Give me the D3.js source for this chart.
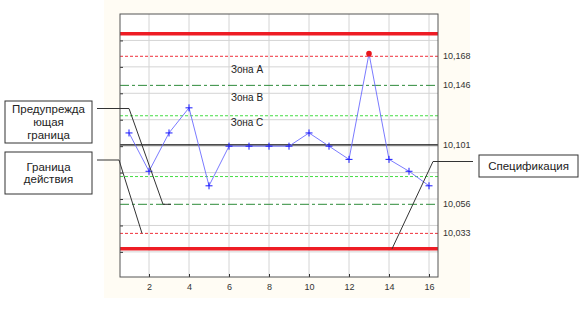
<!DOCTYPE html>
<html>
<head>
<meta charset="utf-8">
<script src="https://cdn.jsdelivr.net/npm/d3@7"></script>
<style>
  body { margin: 0; background: #fff; }
  svg { display: block; font-family: "Liberation Sans", Arial, sans-serif; }
</style>
</head>
<body>
<svg id="chart"></svg>
<script>
const width = 582;
const height = 309;

// samples 1..16
const samples = d3.range(1, 17);
const values = [10.110, 10.081, 10.110, 10.129, 10.070, 10.100, 10.100, 10.100,
                10.100, 10.110, 10.100, 10.090, 10.170, 10.090, 10.081, 10.070];
const outOfControl = [13];

const xTicks = [2, 4, 6, 8, 10, 12, 14, 16];
const gridValues = [10.02, 10.04, 10.06, 10.08, 10.10, 10.12, 10.14, 10.16, 10.18];

// control / spec limit lines
const specLimits = [10.185, 10.0223];
const actionLimits = [10.168, 10.034];
const warningLimits = [10.146, 10.056];
const zoneCLimits = [10.123, 10.077];
const centerLine = 10.101;

const rightLabels = [
  { v: 10.168, t: '10,168' },
  { v: 10.146, t: '10,146' },
  { v: 10.101, t: '10,101' },
  { v: 10.056, t: '10,056' },
  { v: 10.034, t: '10,033' }
];
const zoneLabels = [
  { v: 10.158, t: 'Зона А' },
  { v: 10.137, t: 'Зона В' },
  { v: 10.118, t: 'Зона С' }
];

const plot = { left: 120, right: 438, top: 14, bottom: 277 };

const svg = d3.select('#chart')
    .attr('width', width)
    .attr('height', height);

const x = d3.scaleLinear().domain([0.55, 16.45]).range([plot.left, plot.right]);
const y = d3.scaleLinear().domain([10.001, 10.2]).range([plot.bottom, plot.top]);

// faint panel background
svg.append('rect')
    .attr('x', 104).attr('y', 0)
    .attr('width', 366).attr('height', 298)
    .attr('fill', '#fffcf4');

svg.append('rect')
    .attr('x', plot.left).attr('y', plot.top)
    .attr('width', plot.right - plot.left).attr('height', plot.bottom - plot.top)
    .attr('fill', '#fff');

// grid
svg.append('g')
  .selectAll('line')
  .data(xTicks)
  .join('line')
    .attr('x1', d => x(d)).attr('x2', d => x(d))
    .attr('y1', plot.top).attr('y2', plot.bottom)
    .attr('stroke', '#d4d4d4');

svg.append('g')
  .selectAll('line')
  .data(gridValues)
  .join('line')
    .attr('x1', plot.left).attr('x2', plot.right)
    .attr('y1', d => y(d)).attr('y2', d => y(d))
    .attr('stroke', '#d4d4d4');

// axes (inner ticks)
const xAxis = d3.axisBottom(x).tickValues(xTicks).tickSize(-3).tickPadding(7).tickFormat(d3.format('d'));
svg.append('g')
    .attr('transform', `translate(0,${plot.bottom})`)
    .call(xAxis)
    .call(g => g.select('.domain').remove())
    .call(g => g.selectAll('line').attr('stroke', '#333'))
    .call(g => g.selectAll('text').attr('font-size', 9).attr('fill', '#333'));

const yAxis = d3.axisLeft(y).tickValues(gridValues).tickSize(-3).tickFormat('');
svg.append('g')
    .attr('transform', `translate(${plot.left},0)`)
    .call(yAxis)
    .call(g => g.select('.domain').remove())
    .call(g => g.selectAll('line').attr('stroke', '#333'));

function hline(vals, color, w, dash) {
  svg.append('g')
    .selectAll('line')
    .data(vals)
    .join('line')
      .attr('x1', plot.left).attr('x2', plot.right)
      .attr('y1', d => y(d)).attr('y2', d => y(d))
      .attr('stroke', color)
      .attr('stroke-width', w)
      .attr('stroke-dasharray', dash);
}

hline(zoneCLimits, '#44dd44', 1, '3,2');
hline(warningLimits, '#2e8b3a', 1, '9,3,3,3');
hline(actionLimits, '#f0303a', 1, '3,2');
hline([centerLine], '#111', 1.3, null);
hline(specLimits, '#ee1c24', 3.5, null);

// frame
svg.append('rect')
    .attr('x', plot.left).attr('y', plot.top)
    .attr('width', plot.right - plot.left).attr('height', plot.bottom - plot.top)
    .attr('fill', 'none')
    .attr('stroke', '#555');

// right labels
svg.append('g')
  .selectAll('text')
  .data(rightLabels)
  .join('text')
    .attr('x', plot.right + 5)
    .attr('y', d => y(d.v) + 3)
    .attr('font-size', 9)
    .attr('fill', '#333')
    .text(d => d.t);

// zone labels
svg.append('g')
  .selectAll('text')
  .data(zoneLabels)
  .join('text')
    .attr('x', 247)
    .attr('y', d => y(d.v) + 3.5)
    .attr('text-anchor', 'middle')
    .attr('font-size', 10)
    .attr('fill', '#222')
    .text(d => d.t);

// data series
const pts = samples.map((s, i) => ({ s, v: values[i] }));
svg.append('path')
    .datum(pts)
    .attr('fill', 'none')
    .attr('stroke', '#6b6bff')
    .attr('stroke-width', 0.9)
    .attr('d', d3.line().x(d => x(d.s)).y(d => y(d.v)));

svg.append('g')
  .selectAll('path')
  .data(pts.filter(d => !outOfControl.includes(d.s)))
  .join('path')
    .attr('d', d => `M${x(d.s) - 3.5},${y(d.v)}h7M${x(d.s)},${y(d.v) - 3.5}v7`)
    .attr('stroke', '#1a1aff')
    .attr('stroke-width', 1);

svg.append('g')
  .selectAll('circle')
  .data(pts.filter(d => outOfControl.includes(d.s)))
  .join('circle')
    .attr('cx', d => x(d.s))
    .attr('cy', d => y(d.v))
    .attr('r', 2.8)
    .attr('fill', '#e8141b');

// callouts
const ink = '#333';
function box(x0, y0, w, h, lines, lineH) {
  svg.append('rect')
      .attr('x', x0).attr('y', y0).attr('width', w).attr('height', h)
      .attr('fill', '#fff').attr('stroke', ink);
  const t = svg.append('text')
      .attr('text-anchor', 'middle')
      .attr('font-size', 11.5)
      .attr('fill', '#222');
  const startY = y0 + h / 2 - (lines.length - 1) * lineH / 2 + 4;
  lines.forEach((l, i) => {
    t.append('tspan').attr('x', x0 + w / 2).attr('y', startY + i * lineH).text(l);
  });
}

box(5, 101, 87, 42, ['Предупрежда', 'ющая', 'граница'], 12.8);
box(5, 152, 87, 42, ['Граница', 'действия'], 12.5);
box(479, 155, 99, 22, ['Спецификация'], 12);

svg.append('path')
    .attr('d', `M97,108.5H129L${x(2.7)},${y(warningLimits[1])}H171`)
    .attr('fill', 'none').attr('stroke', ink);
svg.append('path')
    .attr('d', `M97,160H119L${x(1.65)},${y(actionLimits[1])}`)
    .attr('fill', 'none').attr('stroke', ink);
svg.append('path')
    .attr('d', `M473,161.5H433L${x(14.15)},${y(specLimits[1])}`)
    .attr('fill', 'none').attr('stroke', ink);
</script>
</body>
</html>
